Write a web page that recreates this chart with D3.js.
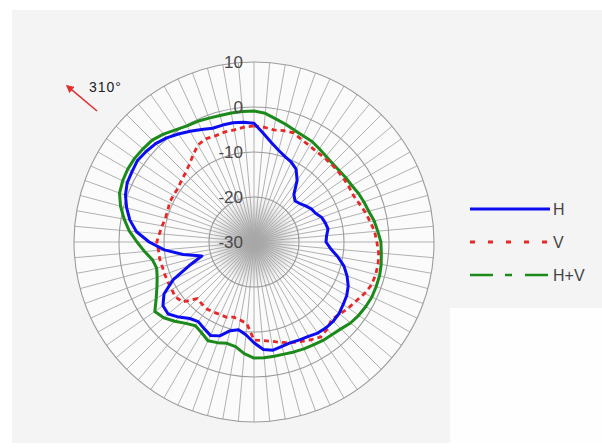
<!DOCTYPE html>
<html>
<head>
<meta charset="utf-8">
<script src="https://cdn.jsdelivr.net/npm/d3@7/dist/d3.min.js"></script>
<style>
  html, body { margin: 0; padding: 0; background: #fff; }
  svg { display: block; font-family: "Liberation Sans", Arial, sans-serif; }
</style>
</head>
<body>
<div id="chart"></div>
<script>
// angles in degrees, clockwise from top
const angles = [0, 5, 10, 15, 20, 25, 30, 35, 40, 45, 50, 55, 60, 65, 70, 75, 80, 85,
  90, 95, 100, 105, 110, 115, 120, 125, 130, 135, 140, 145, 150, 155, 160, 165, 170, 175,
  180, 185, 190, 195, 200, 205, 210, 215, 220, 225, 230, 235, 240, 245, 250, 255, 260, 265,
  270, 275, 280, 285, 290, 295, 300, 305, 310, 315, 320, 325, 330, 335, 340, 345, 350, 355];

// dB values
const hValues = [-3.6, -5.8, -7.6, -8.9, -9.8, -10.4, -11.3, -13.3, -16.2, -17.1, -16.7, -16.0,
  -15.3, -14.9, -14.0, -13.6, -13.3, -13.8, -14.0, -12.9, -11.1, -9.3, -8.0, -6.9,
  -6.2, -5.8, -5.3, -5.1, -5.1, -5.3, -5.8, -6.0, -6.2, -6.0, -5.6, -6.0,
  -7.6, -9.3, -10.2, -9.6, -7.8, -7.1, -7.8, -8.4, -7.8, -6.4, -5.1, -5.3,
  -6.9, -10.2, -14.7, -18.0, -14.0, -10.0, -6.7, -3.8, -2.0, -0.7, 0.4, 1.1,
  1.3, 1.6, 1.3, 0.9, 0.2, -0.7, -1.6, -2.4, -3.1, -3.1, -3.1, -3.3];

const vValues = [-4.2, -4.4, -4.7, -4.4, -4.2, -4.9, -5.3, -5.6, -5.6, -5.6, -5.6, -5.6,
  -5.6, -5.6, -5.1, -4.4, -3.8, -3.1, -2.7, -2.2, -2.0, -2.0, -2.2, -2.9,
  -3.8, -4.4, -5.1, -5.6, -4.7, -4.2, -4.9, -5.6, -6.2, -6.9, -7.6, -8.0,
  -8.2, -11.8, -12.4, -12.7, -12.2, -12.2, -12.0, -11.8, -12.0, -12.2, -9.3, -8.7,
  -8.9, -8.9, -8.9, -8.9, -8.7, -8.7, -8.4, -8.9, -9.3, -9.6, -9.6, -9.3,
  -9.3, -9.3, -8.9, -8.4, -7.6, -6.4, -5.1, -4.7, -4.9, -4.7, -4.7, -4.4];

const hvValues = [-0.9, -1.3, -2.2, -2.9, -3.6, -4.0, -4.2, -4.7, -5.1, -5.3, -5.3, -5.1,
  -4.9, -4.4, -4.0, -3.6, -2.9, -2.4, -1.8, -1.6, -1.3, -1.1, -1.1, -1.1,
  -1.3, -1.6, -2.0, -2.7, -3.1, -3.3, -3.6, -3.8, -4.0, -4.2, -4.2, -4.2,
  -4.2, -5.1, -6.4, -6.7, -6.2, -5.8, -6.7, -7.3, -6.4, -5.1, -3.8, -3.1,
  -4.9, -6.2, -7.1, -7.6, -7.1, -5.6, -4.0, -2.2, -0.7, 0.7, 1.8, 2.2,
  2.4, 2.4, 2.2, 2.0, 1.3, 0.4, -0.2, -0.4, -0.7, -0.9, -0.9, -0.9];

const ringTicks = [-30, -20, -10, 0, 10];
const seriesNames = ['H', 'V', 'H+V'];
const markerAngle = 310;
const markerLabel = '310°';

const width = 602;
const height = 448;
const cx = 254;
const cy = 242;

const svg = d3.select('#chart').append('svg')
  .attr('width', width)
  .attr('height', height);

// page background
svg.append('rect').attr('x', 12).attr('y', 10).attr('width', width - 12).attr('height', 433).attr('fill', '#f4f4f4');
svg.append('rect').attr('x', 450).attr('y', 308).attr('width', 152).attr('height', 135).attr('fill', '#fefefe');

const r = d3.scaleLinear().domain([-30, 10]).range([0, 180]);
const a = d3.scaleLinear().domain([0, 360]).range([0, 2 * Math.PI]);

const defs = svg.append('defs');
const grad = defs.append('radialGradient').attr('id', 'core');
grad.append('stop').attr('offset', '0%').attr('stop-color', '#888').attr('stop-opacity', 0.85);
grad.append('stop').attr('offset', '55%').attr('stop-color', '#aaa').attr('stop-opacity', 0.45);
grad.append('stop').attr('offset', '100%').attr('stop-color', '#ccc').attr('stop-opacity', 0);

const g = svg.append('g').attr('transform', 'translate(' + cx + ',' + cy + ')');

g.append('circle').attr('r', r(10)).attr('fill', '#fbfbfb');
g.append('circle').attr('r', r(-20) + 4).attr('fill', 'url(#core)');

// spokes
g.selectAll('.spoke')
  .data(angles)
  .enter().append('line')
  .attr('class', 'spoke')
  .attr('x1', 0).attr('y1', 0)
  .attr('x2', d => r(10) * Math.sin(a(d)))
  .attr('y2', d => -r(10) * Math.cos(a(d)))
  .attr('stroke', '#a8a8a8')
  .attr('stroke-width', 0.9);

// rings
g.selectAll('.ring')
  .data(ringTicks.slice(1))
  .enter().append('circle')
  .attr('class', 'ring')
  .attr('r', d => r(d))
  .attr('fill', 'none')
  .attr('stroke', '#9c9c9c')
  .attr('stroke-width', 1.1);

const line = d3.lineRadial()
  .angle((d, i) => a(angles[i]))
  .radius(d => r(d))
  .curve(d3.curveLinearClosed);

g.append('path').datum(hvValues)
  .attr('d', line).attr('fill', 'none')
  .attr('stroke', '#1b8a1b').attr('stroke-width', 3).attr('stroke-linejoin', 'round');

g.append('path').datum(vValues)
  .attr('d', line).attr('fill', 'none')
  .attr('stroke', '#e62828').attr('stroke-width', 2.8)
  .attr('stroke-dasharray', '5,4');

g.append('path').datum(hValues)
  .attr('d', line).attr('fill', 'none')
  .attr('stroke', '#0c0cf0').attr('stroke-width', 3).attr('stroke-linejoin', 'round');

// ring labels
g.selectAll('.rlabel')
  .data(ringTicks)
  .enter().append('text')
  .attr('class', 'rlabel')
  .attr('x', -11)
  .attr('y', d => -r(d))
  .attr('dy', '0.36em')
  .attr('text-anchor', 'end')
  .attr('font-size', 17)
  .attr('fill', '#4a4a4a')
  .text(d => d);

// direction marker
defs.append('marker')
  .attr('id', 'arrow')
  .attr('viewBox', '0 0 10 10')
  .attr('refX', 8).attr('refY', 5)
  .attr('markerWidth', 5).attr('markerHeight', 5)
  .attr('orient', 'auto')
  .append('path').attr('d', 'M0,0L10,5L0,10z').attr('fill', '#e03030');

svg.append('line')
  .attr('x1', 97).attr('y1', 111)
  .attr('x2', 97 + 39 * Math.sin(a(markerAngle)))
  .attr('y2', 111 - 39 * Math.cos(a(markerAngle)))
  .attr('stroke', '#e03030').attr('stroke-width', 1.6)
  .attr('marker-end', 'url(#arrow)');

svg.append('text')
  .attr('x', 89).attr('y', 92)
  .attr('font-size', 14)
  .attr('letter-spacing', 1)
  .attr('fill', '#222')
  .text(markerLabel);

// legend
const legendStyles = [
  { color: '#0c0cf0', dash: null, width: 3 },
  { color: '#e62828', dash: '5,13', width: 3 },
  { color: '#1b8a1b', dash: '23,12,7,13', width: 2.6 }
];

const legend = svg.selectAll('.legend')
  .data(seriesNames)
  .enter().append('g')
  .attr('class', 'legend')
  .attr('transform', (d, i) => 'translate(470,' + (209 + i * 33) + ')');

legend.append('line')
  .attr('x1', 0).attr('x2', 80)
  .attr('stroke', (d, i) => legendStyles[i].color)
  .attr('stroke-width', (d, i) => legendStyles[i].width)
  .attr('stroke-dasharray', (d, i) => legendStyles[i].dash);

legend.append('text')
  .attr('x', 83).attr('y', 0)
  .attr('dy', '0.36em')
  .attr('font-size', 16)
  .attr('fill', '#444')
  .text(d => d);
</script>
</body>
</html>
